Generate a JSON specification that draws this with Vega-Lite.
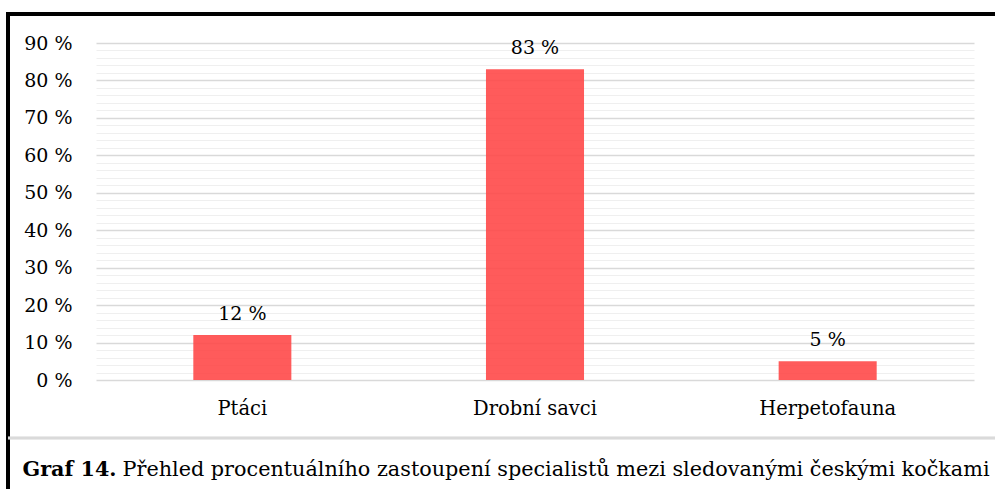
{
  "$schema": "https://vega.github.io/schema/vega-lite/v6.json",
  "autosize": "none",
  "width": 987,
  "height": 475,
  "padding": {"left": 8, "top": 14, "right": 0, "bottom": 0},
  "background": "white",
  "config": {
    "font": "DejaVu Serif",
    "view": {"stroke": "black", "strokeWidth": 4, "strokeDash": [987, 1462, 475]}
  },
  "data": {"values": [
    {"category": "Ptáci", "value": 12},
    {"category": "Drobní savci", "value": 83},
    {"category": "Herpetofauna", "value": 5}
  ]},
  "encoding": {
    "x": {
      "field": "category", "type": "nominal", "sort": null,
      "scale": {"range": [88, 966], "paddingInner": 0, "paddingOuter": 0},
      "axis": {
        "orient": "bottom", "offset": -109, "domain": false, "ticks": false,
        "labelAngle": 0, "labelFontSize": 19.5, "labelColor": "black", "labelPadding": 19,
        "labelFont": "DejaVu Serif",
        "title": "Graf 14.", "titleFont": "DejaVu Serif", "titleFontSize": 20.7, "titleFontWeight": "bold",
        "titleColor": "black", "titleX": 14, "titleY": 95, "titleAlign": "left", "titleAnchor": "start",
        "titleBaseline": "alphabetic", "titleAngle": 0
      }
    },
    "y": {
      "field": "value", "type": "quantitative",
      "scale": {"domain": [0, 90], "range": [366, 29], "nice": false},
      "axis": {
        "orient": "left", "offset": -88, "domain": false, "ticks": false,
        "values": [0,2,4,6,8,10,12,14,16,18,20,22,24,26,28,30,32,34,36,38,40,42,44,46,48,50,52,54,56,58,60,62,64,66,68,70,72,74,76,78,80,82,84,86,88,90],
        "labelExpr": "datum.value % 10 === 0 ? datum.value + ' %' : ''",
        "labelOverlap": false, "labelFontSize": 19, "labelColor": "black", "labelPadding": 24,
        "labelFont": "DejaVu Serif",
        "grid": true,
        "gridColor": {"condition": {"test": "datum.value % 10 === 0", "value": "#d9d9d9"}, "value": "#efefef"},
        "gridWidth": {"condition": {"test": "datum.value % 10 === 0", "value": 1.5}, "value": 1.2},
        "title": "Přehled procentuálního zastoupení specialistů mezi sledovanými českými kočkami",
        "titleFont": "DejaVu Serif", "titleFontSize": 20.75, "titleFontWeight": "normal", "titleColor": "black",
        "titleAngle": 0, "titleX": 26, "titleY": 461, "titleAlign": "left", "titleAnchor": "start",
        "titleBaseline": "alphabetic"
      }
    }
  },
  "layer": [
    {
      "mark": {"type": "bar", "color": "#ff4444", "opacity": 0.88, "width": {"band": 0.335}}
    },
    {
      "mark": {"type": "text", "font": "DejaVu Serif", "fontSize": 19, "color": "black", "baseline": "alphabetic", "dy": -15, "text": {"expr": "datum.value + ' %'"}}
    },
    {
      "mark": {"type": "rule", "color": "#dadada", "strokeWidth": 2.5},
      "encoding": {"y": {"datum": -15.5}, "x": null}
    }
  ]
}
